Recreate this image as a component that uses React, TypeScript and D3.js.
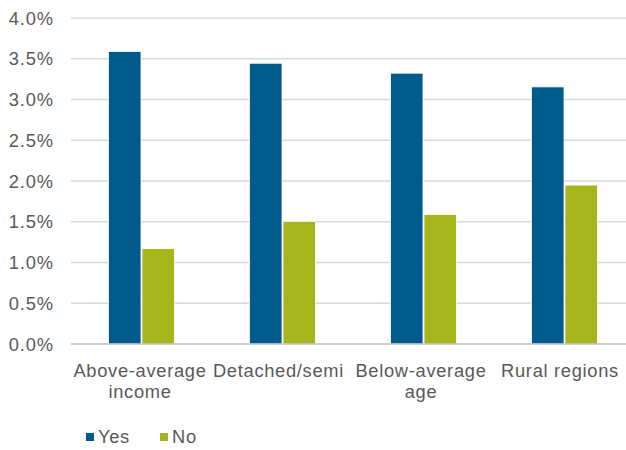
import React from "react";
import * as d3 from "d3";

const categories: string[][] = [
  ["Above-average", "income"],
  ["Detached/semi"],
  ["Below-average", "age"],
  ["Rural regions"],
];
const seriesNames = ["Yes", "No"];
const yesValues = [3.59, 3.445, 3.323, 3.155];
const noValues = [1.17, 1.505, 1.59, 1.95];
const yTicks = [0, 0.5, 1.0, 1.5, 2.0, 2.5, 3.0, 3.5, 4.0];
const colors = ["#005A8C", "#A6B51B"];
const labelShift = [-1.5, -4, -2.5, -4.5];

const W = 626;
const H = 450;
const plotLeft = 71;
const plotRight = 635;
const plotTop = 18;
const plotBottom = 344;

export default function App() {
  const x0 = d3
    .scaleBand<number>()
    .domain(categories.map((_, i) => i))
    .range([plotLeft, plotRight])
    .padding(0);
  const bw = x0.bandwidth();
  const x1 = d3
    .scaleBand<string>()
    .domain(seriesNames)
    .range([bw / 2 - 33, bw / 2 + 33])
    .paddingInner(0.03);
  const y = d3.scaleLinear().domain([0, 4]).range([plotBottom, plotTop]);
  const series = [yesValues, noValues];
  const font = "'Liberation Sans', Arial, sans-serif";
  const textColor = "#595959";
  const fs = 18.3;
  const ls = 0.7;

  return (
    <svg
      width={W}
      height={H}
      style={{ position: "absolute", left: 0, top: 0 }}
      fontFamily={font}
    >
      <rect width={W} height={H} fill="#fff" />
      {yTicks.map((t) => (
        <g key={t}>
          {t > 0 && (
            <line
              x1={plotLeft}
              x2={plotRight}
              y1={y(t)}
              y2={y(t)}
              stroke="#D9D9D9"
              strokeWidth={1.3}
            />
          )}
          <text
            x={54}
            y={y(t)}
            dy="0.36em"
            textAnchor="end"
            fontSize={fs}
            letterSpacing={0.9}
            fill={textColor}
          >
            {d3.format(".1f")(t) + "%"}
          </text>
        </g>
      ))}
      {series.map((vals, si) =>
        vals.map((v, ci) => (
          <rect
            key={`${si}-${ci}`}
            x={(x0(ci) as number) + (x1(seriesNames[si]) as number)}
            y={y(v)}
            width={x1.bandwidth()}
            height={y(0) - y(v)}
            fill={colors[si]}
            stroke="#fff"
            strokeWidth={0.8}
          />
        ))
      )}
      <line
        x1={plotLeft}
        x2={plotRight}
        y1={y(0)}
        y2={y(0)}
        stroke="#BFBFBF"
        strokeWidth={1.3}
      />
      {categories.map((lines, ci) => {
        const cx = (x0(ci) as number) + bw / 2 + labelShift[ci];
        return (
          <text
            key={ci}
            x={cx}
            y={377}
            textAnchor="middle"
            fontSize={fs}
            letterSpacing={ls}
            fill={textColor}
          >
            {lines.map((l, li) => (
              <tspan key={li} x={cx} dy={li === 0 ? 0 : 21}>
                {l}
              </tspan>
            ))}
          </text>
        );
      })}
      {seriesNames.map((s, i) => {
        const lx = i === 0 ? 86 : 160;
        return (
          <g key={s}>
            <rect x={lx} y={433} width={8} height={8} fill={colors[i]} />
            <text x={lx + 12} y={443} fontSize={fs} letterSpacing={ls} fill={textColor}>
              {s}
            </text>
          </g>
        );
      })}
    </svg>
  );
}
